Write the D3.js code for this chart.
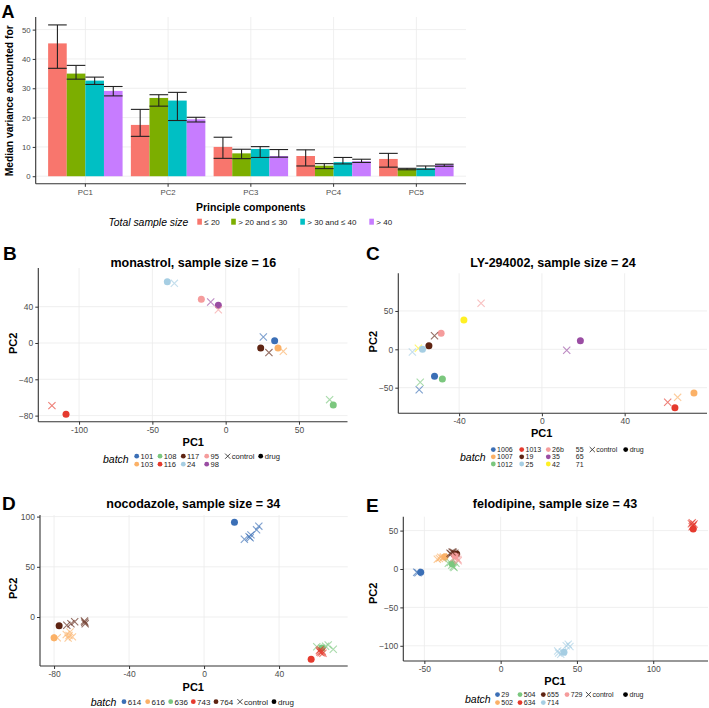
<!DOCTYPE html>
<html><head><meta charset="utf-8">
<script src="https://cdn.jsdelivr.net/npm/d3@7"></script>
<style>body{margin:0;background:#fff} svg{font-family:"Liberation Sans",Arial,sans-serif}</style>
</head><body><svg id="c" width="709" height="708"></svg>
<script>
// ---------- Panel A data ----------
const pcLabels = ["PC1","PC2","PC3","PC4","PC5"];
const sizeGroups = ["≤ 20","> 20 and ≤ 30","> 30 and ≤ 40","> 40"];
const sizeColors = ["#F8766D","#7CAE00","#00BFC4","#C77CFF"];
const medLe20    = [45.3,17.5,10.0,6.9,5.9];
const med20to30  = [35.0,26.7,7.8,3.6,2.5];
const med30to40  = [32.6,25.8,9.3,4.8,2.7];
const medGt40    = [29.1,19.4,6.9,5.1,4.0];
const loLe20     = [36.8,13.6,6.1,3.5,3.1];
const hiLe20     = [51.6,22.8,13.3,9.0,7.8];
const lo20to30   = [33.1,23.9,6.0,2.6,2.2];
const hi20to30   = [37.8,27.8,9.2,4.3,2.7];
const lo30to40   = [31.3,19.0,6.4,4.2,2.4];
const hi30to40   = [33.8,28.6,10.1,6.4,3.5];
const loGt40     = [27.4,18.5,6.5,4.7,3.4];
const hiGt40     = [30.6,20.1,9.1,5.8,4.1];
const varTicks   = [0,10,20,30,40,50];

// ---------- Scatter colours ----------
const cBlue="#3B6FB6", cOrange="#FBB167", cGreen="#7BC77E", cRed="#E53A2E", cBrown="#5E2412",
      cLightBlue="#A6CEE3", cPink="#F59C9C", cPurple="#9A4DA3", cYellow="#FFF024", cWhite="#FFFFFF";

// ---------- Panel B: monastrol ----------
const monBatches = ["101","103","108","116","117","24","95","98"];
const monColors  = [cBlue,cOrange,cGreen,cRed,cBrown,cLightBlue,cPink,cPurple];
const monPoints = [
  ["24","drug",-39.8,67.5],["24","control",-35.0,65.7],
  ["95","drug",-16.6,48.1],["98","control",-10.2,45.2],
  ["98","drug",-5.0,41.5],["95","control",-5.0,36.7],
  ["101","control",25.7,6.6],["101","drug",33.4,2.6],
  ["117","drug",23.9,-5.5],["103","drug",35.7,-5.5],
  ["117","control",29.5,-10.6],["103","control",39.3,-9.2],
  ["108","control",70.9,-62.4],["108","drug",73.4,-68.3],
  ["116","control",-118.5,-69.0],["116","drug",-108.9,-78.5]
];
const monXTicks = [-100,-50,0,50], monYTicks = [-80,-40,0,40];

// ---------- Panel C: LY-294002 ----------
const lyBatches = ["1006","1007","1012","1013","19","25","26b","35","42","55","65","71"];
const lyColors  = [cBlue,cOrange,cGreen,cRed,cBrown,cLightBlue,cPink,cPurple,cYellow,cWhite,cWhite,cWhite];
const lyPoints = [
  ["26b","control",-29.4,60.0],["42","drug",-37.7,38.2],
  ["26b","drug",-48.7,20.9],["19","control",-51.9,17.7],
  ["19","drug",-54.6,4.7],["42","control",-59.7,1.3],
  ["25","drug",-57.7,0.0],["25","control",-62.6,-3.5],
  ["1006","drug",-51.9,-35.2],["1012","drug",-48.1,-38.7],
  ["1012","control",-58.8,-43.0],["1006","control",-59.3,-52.6],
  ["35","drug",18.6,11.2],["35","control",12.0,-1.3],
  ["1007","drug",73.5,-57.0],["1007","control",65.6,-62.6],
  ["1013","control",60.8,-69.1],["1013","drug",64.3,-76.1]
];
const lyXTicks = [-40,0,40], lyYTicks = [-50,0,50];

// ---------- Panel D: nocodazole ----------
const nocBatches = ["614","616","636","743","764"];
const nocColors  = [cBlue,cOrange,cGreen,cRed,cBrown];
const nocPoints = [
  ["614","drug",16.2,94.3],
  ["614","control",21.5,77.4],["614","control",24.0,80.0],["614","control",25.0,81.8],
  ["614","control",28.0,86.8],["614","control",29.2,90.5],["614","control",24.6,79.0],
  ["616","drug",-80.0,-20.6],
  ["616","control",-78.3,-20.6],["616","control",-73.5,-17.5],["616","control",-71.5,-15.0],
  ["616","control",-70.2,-19.8],["616","control",-72.5,-21.0],["616","control",-72.0,-18.5],
  ["764","drug",-77.3,-8.7],
  ["764","control",-73.2,-8.2],["764","control",-71.0,-6.8],["764","control",-69.0,-4.8],
  ["764","control",-63.8,-4.0],["764","control",-63.4,-6.8],["764","control",-63.6,-5.2],
  ["636","control",60.1,-29.6],["636","control",66.2,-27.9],["636","control",68.9,-32.2],
  ["636","control",64.8,-29.2],["636","control",62.7,-31.0],
  ["636","drug",62.8,-30.8],
  ["743","control",61.5,-33.5],["743","control",62.4,-35.6],["743","control",63.0,-34.0],
  ["743","control",62.0,-32.5],["743","control",63.4,-36.0],["743","control",61.8,-34.8],
  ["743","drug",57.1,-42.2]
];
const nocXTicks = [-80,-40,0,40], nocYTicks = [0,50,100];

// ---------- Panel E: felodipine ----------
const felBatches = ["29","502","504","634","655","714","729"];
const felColors  = [cBlue,cOrange,cGreen,cRed,cBrown,cLightBlue,cPink];
const felPoints = [
  ["29","control",-55.0,-4.3],["29","control",-54.2,-4.8],["29","drug",-52.4,-4.3],
  ["502","control",-41.5,12.6],["502","control",-39.3,15.2],["502","control",-40.2,13.8],["502","control",-38.0,14.0],
  ["502","drug",-36.5,16.0],
  ["504","control",-34.3,7.4],["504","control",-31.1,3.0],["504","control",-29.3,7.4],
  ["504","control",-32.0,5.0],["504","control",-30.5,2.0],["504","drug",-31.7,6.5],
  ["655","control",-33.2,20.4],["655","control",-31.1,21.7],["655","control",-32.5,19.5],["655","control",-30.0,20.5],
  ["655","drug",-28.8,19.5],
  ["729","control",-28.8,13.9],["729","control",-27.8,10.8],["729","control",-29.5,15.5],["729","control",-28.0,12.5],
  ["729","drug",-29.9,16.9],
  ["634","control",125.6,60.3],["634","control",126.2,57.3],["634","control",125.5,55.0],
  ["634","control",126.8,58.5],["634","control",125.0,59.0],["634","control",126.0,56.0],
  ["634","drug",126.2,52.1],
  ["714","control",37.4,-106.8],["714","control",44.3,-98.1],["714","control",39.4,-111.0],
  ["714","control",45.4,-101.0],["714","control",38.0,-109.5],["714","control",43.0,-100.0],
  ["714","drug",41.5,-108.5],
  ["504","control",-33.0,8.5],["655","control",-31.8,22.0],["729","control",-30.5,14.5],
  ["502","control",-37.5,15.5],["714","control",40.5,-108.0]
];
const felXTicks = [-50,0,50,100], felYTicks = [-100,-50,0,50];

const svg = d3.select("#c");
const AXIS = "#333", GRID = "#ebebeb", TICKTXT = "#4d4d4d";

// ================= Panel A =================
(function(){
  const left=35.7, right=466, top=17, bottom=183.8;
  const x = d3.scaleBand().domain(pcLabels).range([left,right]).paddingInner(0).paddingOuter(0.1);
  const step = x.step();
  const xg = d3.scaleBand().domain(sizeGroups).range([-0.45*step,0.45*step]).padding(0);
  const y = d3.scaleLinear().domain([-2.58,54.3]).range([bottom,top]);
  const g = svg.append("g");
  g.selectAll("line.hg").data(varTicks).join("line").attr("x1",left).attr("x2",right)
    .attr("y1",d=>y(d)).attr("y2",d=>y(d)).attr("stroke",GRID).attr("stroke-width",0.8);
  g.selectAll("line.vg").data(pcLabels).join("line").attr("y1",top).attr("y2",bottom)
    .attr("x1",d=>x(d)+step/2).attr("x2",d=>x(d)+step/2).attr("stroke",GRID).attr("stroke-width",0.8);
  const meds=[medLe20,med20to30,med30to40,medGt40], los=[loLe20,lo20to30,lo30to40,loGt40], his=[hiLe20,hi20to30,hi30to40,hiGt40];
  const rows=[];
  sizeGroups.forEach((sg,gi)=>pcLabels.forEach((pc,pi)=>rows.push({sg,gi,pc,v:meds[gi][pi],lo:los[gi][pi],hi:his[gi][pi]})));
  g.selectAll("rect.bar").data(rows).join("rect")
    .attr("x",d=>x(d.pc)+step/2+xg(d.sg)).attr("width",xg.bandwidth())
    .attr("y",d=>y(d.v)).attr("height",d=>y(0)-y(d.v)).attr("fill",d=>sizeColors[d.gi]);
  const eb = g.selectAll("g.eb").data(rows).join("g").attr("stroke","#222").attr("stroke-width",1.1);
  eb.append("line").attr("x1",d=>x(d.pc)+step/2+xg(d.sg)+xg.bandwidth()/2).attr("x2",d=>x(d.pc)+step/2+xg(d.sg)+xg.bandwidth()/2)
    .attr("y1",d=>y(d.lo)).attr("y2",d=>y(d.hi));
  eb.append("line").attr("x1",d=>x(d.pc)+step/2+xg(d.sg)).attr("x2",d=>x(d.pc)+step/2+xg(d.sg)+xg.bandwidth())
    .attr("y1",d=>y(d.lo)).attr("y2",d=>y(d.lo));
  eb.append("line").attr("x1",d=>x(d.pc)+step/2+xg(d.sg)).attr("x2",d=>x(d.pc)+step/2+xg(d.sg)+xg.bandwidth())
    .attr("y1",d=>y(d.hi)).attr("y2",d=>y(d.hi));
  const ya = g.append("g").attr("transform",`translate(${left},0)`).call(d3.axisLeft(y).tickValues(varTicks).tickSize(3).tickPadding(2));
  const xa = g.append("g").attr("transform",`translate(0,${bottom})`).call(d3.axisBottom(x).tickSize(3).tickPadding(3));
  [ya,xa].forEach(a=>{a.select(".domain").remove(); a.selectAll(".tick line").attr("stroke",AXIS);
    a.selectAll("text").attr("font-size",7.8).attr("fill",TICKTXT).attr("font-family","Liberation Sans, Arial");});
  g.append("line").attr("x1",left).attr("x2",left).attr("y1",top).attr("y2",bottom).attr("stroke",AXIS).attr("stroke-width",1.1);
  g.append("line").attr("x1",left).attr("x2",right).attr("y1",bottom).attr("y2",bottom).attr("stroke",AXIS).attr("stroke-width",1.1);
  g.append("text").attr("transform","translate(12.5,100.8) rotate(-90)").attr("text-anchor","middle")
    .attr("font-weight","bold").attr("font-size",10.3).text("Median variance accounted for");
  g.append("text").attr("x",(left+right)/2).attr("y",210.5).attr("text-anchor","middle")
    .attr("font-weight","bold").attr("font-size",10.5).text("Principle components");
  g.append("text").attr("x",1.5).attr("y",18.3).attr("font-weight","bold").attr("font-size",18).text("A");
  g.append("text").attr("x",108.4).attr("y",225.5).attr("font-style","italic").attr("font-size",10.4).text("Total sample size");
  const keyX=[197.3,231.2,300.3,369.3];
  sizeGroups.forEach((sg,i)=>{
    g.append("rect").attr("x",keyX[i]).attr("y",218.7).attr("width",4.6).attr("height",6).attr("fill",sizeColors[i]);
    g.append("text").attr("x",keyX[i]+7).attr("y",224.6).attr("font-size",8).attr("fill","#222").text(sg);
  });
})();

// ================= Scatter panels =================
function crossPath(cx,cy,h){return `M${cx-h},${cy-h}L${cx+h},${cy+h}M${cx-h},${cy+h}L${cx+h},${cy-h}`;}

function scatterPanel(c){
  const g = svg.append("g");
  const x = d3.scaleLinear().domain(c.xDomain).range([c.left,c.right]);
  const y = d3.scaleLinear().domain(c.yDomain).range([c.bottom,c.top]);
  const col = d3.scaleOrdinal().domain(c.batches).range(c.colors);
  g.selectAll("line.vg").data(c.xTicks).join("line").attr("x1",d=>x(d)).attr("x2",d=>x(d))
    .attr("y1",c.top).attr("y2",c.bottom).attr("stroke",GRID).attr("stroke-width",0.8);
  g.selectAll("line.hg").data(c.yTicks).join("line").attr("y1",d=>y(d)).attr("y2",d=>y(d))
    .attr("x1",c.left).attr("x2",c.right).attr("stroke",GRID).attr("stroke-width",0.8);
  c.points.forEach(p=>{
    const px=x(p[2]), py=y(p[3]);
    if(p[1]==="drug"){
      g.append("circle").attr("cx",px).attr("cy",py).attr("r",3.5).attr("fill",col(p[0]));
    } else {
      g.append("path").attr("d",crossPath(px,py,3.6)).attr("stroke",col(p[0])).attr("stroke-width",1.1)
        .attr("stroke-opacity",0.65).attr("fill","none");
    }
  });
  const ya = g.append("g").attr("transform",`translate(${c.left},0)`).call(d3.axisLeft(y).tickValues(c.yTicks).tickSize(3).tickPadding(2).tickFormat(d3.format("d")));
  const xa = g.append("g").attr("transform",`translate(0,${c.bottom})`).call(d3.axisBottom(x).tickValues(c.xTicks).tickSize(3).tickPadding(2).tickFormat(d=>String(d)));
  [ya,xa].forEach(a=>{a.select(".domain").remove(); a.selectAll(".tick line").attr("stroke",AXIS);
    a.selectAll("text").attr("font-size",8.5).attr("fill",TICKTXT).attr("font-family","Liberation Sans, Arial");});
  g.append("line").attr("x1",c.left).attr("x2",c.left).attr("y1",c.top).attr("y2",c.bottom).attr("stroke",AXIS).attr("stroke-width",1.1);
  g.append("line").attr("x1",c.left).attr("x2",c.right).attr("y1",c.bottom).attr("y2",c.bottom).attr("stroke",AXIS).attr("stroke-width",1.1);
  g.append("text").attr("x",c.titleX).attr("y",c.titleY).attr("text-anchor","middle").attr("font-weight","bold").attr("font-size",12.5).text(c.title);
  g.append("text").attr("x",c.letterX).attr("y",c.letterY).attr("font-weight","bold").attr("font-size",19).text(c.letter);
  g.append("text").attr("x",c.xtX).attr("y",c.xtY).attr("text-anchor","middle").attr("font-weight","bold").attr("font-size",11).text("PC1");
  g.append("text").attr("transform",`translate(${c.ytX},${c.ytY}) rotate(-90)`).attr("text-anchor","middle").attr("font-weight","bold").attr("font-size",11).text("PC2");
  const L=c.legend, fs=L.fs||8;
  g.append("text").attr("x",L.titleX).attr("y",L.titleY).attr("font-style","italic").attr("font-size",10.5).text("batch");
  c.batches.forEach((b,i)=>{
    const ci=Math.floor(i/L.nrow), ri=i%L.nrow;
    const kx=L.colX[ci], ky=L.rowY[ri];
    g.append("circle").attr("cx",kx).attr("cy",ky).attr("r",2.4).attr("fill",col(b));
    g.append("text").attr("x",kx+3.8).attr("y",ky+fs*0.36).attr("font-size",fs).attr("fill","#222").text(b);
  });
  g.append("path").attr("d",crossPath(L.crossX,L.shapeY,2.6)).attr("stroke","#333").attr("stroke-width",0.9).attr("fill","none");
  g.append("text").attr("x",L.crossX+4).attr("y",L.shapeY+fs*0.36).attr("font-size",fs).attr("fill","#222").text("control");
  g.append("circle").attr("cx",L.dotX).attr("cy",L.shapeY).attr("r",2.4).attr("fill","#000");
  g.append("text").attr("x",L.dotX+4).attr("y",L.shapeY+fs*0.36).attr("font-size",fs).attr("fill","#222").text("drug");
}

scatterPanel({
  left:38.3,right:347.5,top:268,bottom:421.7,xDomain:[-127.8,83.1],yDomain:[-86.7,82.6],
  xTicks:monXTicks,yTicks:monYTicks,points:monPoints,batches:monBatches,colors:monColors,
  title:"monastrol, sample size = 16",titleX:193.3,titleY:266.5,letter:"B",letterX:3,letterY:260,
  xtX:193.3,xtY:445.5,ytX:17,ytY:343.3,
  legend:{fs:7.6,titleX:103,titleY:463,nrow:2,colX:[136.7,160,183.3,206.7],rowY:[456.2,464.2],crossX:227.7,dotX:260.7,shapeY:456.2}
});
scatterPanel({
  left:398.3,right:707,top:273.3,bottom:413.3,xDomain:[-69.4,79.8],yDomain:[-83.4,99.1],
  xTicks:lyXTicks,yTicks:lyYTicks,points:lyPoints,batches:lyBatches,colors:lyColors,
  title:"LY-294002, sample size = 24",titleX:553,titleY:266.5,letter:"C",letterX:366,letterY:260,
  xtX:541.7,xtY:437.3,ytX:377,ytY:341.7,
  legend:{fs:7,titleX:460,titleY:460.5,nrow:3,colX:[493.3,521.7,548.3,572],rowY:[449.6,456.8,464],crossX:592.3,dotX:625.7,shapeY:449.6}
});
scatterPanel({
  left:40,right:347.7,top:515,bottom:666,xDomain:[-87.5,76.6],yDomain:[-48.8,101.6],
  xTicks:nocXTicks,yTicks:nocYTicks,points:nocPoints,batches:nocBatches,colors:nocColors,
  title:"nocodazole, sample size = 34",titleX:193.3,titleY:507.5,letter:"D",letterX:2,letterY:510,
  xtX:193.3,xtY:690.5,ytX:17,ytY:588.3,
  legend:{fs:8,titleX:90.7,titleY:705.5,nrow:1,colX:[124,147.7,170.7,193.3,216],rowY:[701.7],crossX:240,dotX:274,shapeY:701.7}
});
scatterPanel({
  left:403.3,right:708,top:516.7,bottom:661,xDomain:[-63.8,135.9],yDomain:[-119.8,68.1],
  xTicks:felXTicks,yTicks:felYTicks,points:felPoints,batches:felBatches,colors:felColors,
  title:"felodipine, sample size = 43",titleX:555,titleY:507.5,letter:"E",letterX:366,letterY:511.7,
  xtX:555,xtY:685,ytX:377,ytY:593.3,
  legend:{fs:7,titleX:465,titleY:702.5,nrow:2,colX:[497.5,520,543.3,567],rowY:[694.6,702.6],crossX:588.5,dotX:625.5,shapeY:694.6}
});
</script></body></html>
